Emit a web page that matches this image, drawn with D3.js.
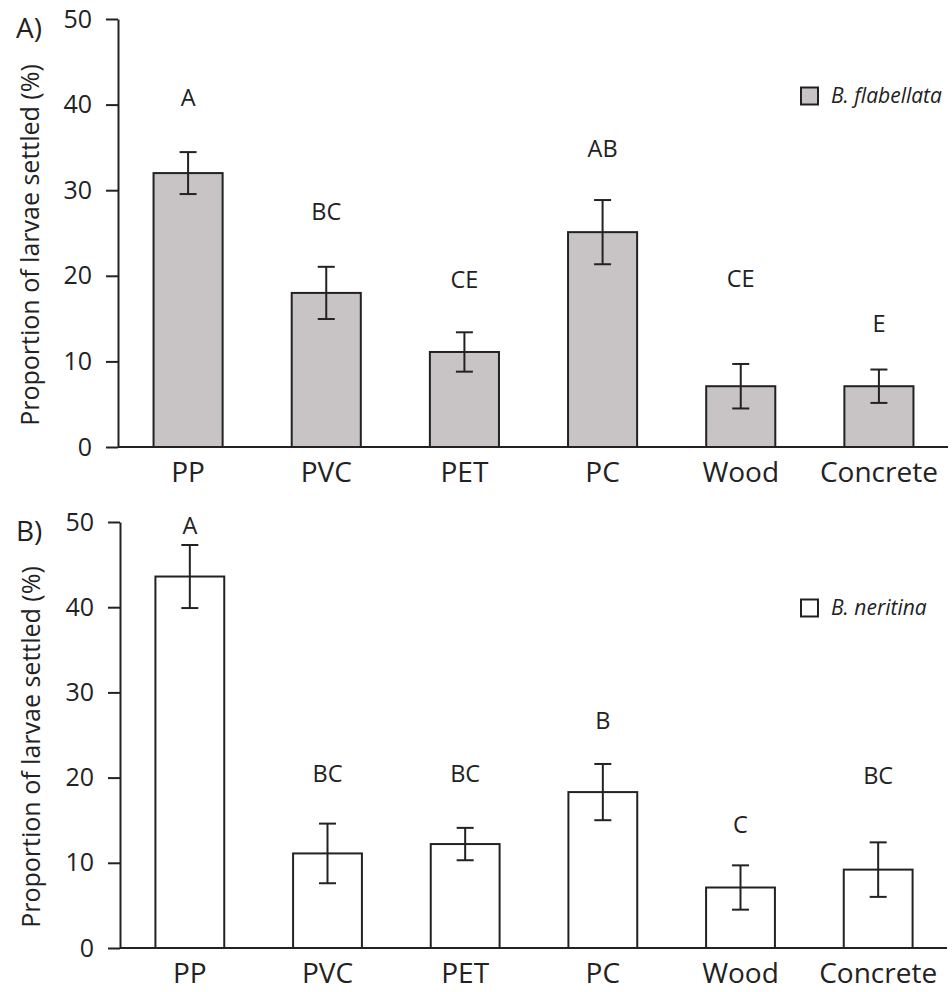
<!DOCTYPE html>
<html><head><meta charset="utf-8">
<script src="https://cdn.jsdelivr.net/npm/d3@7"></script>
<style>
html,body{margin:0;padding:0;background:#fff;}
svg text{font-family:"Open Sans",sans-serif;fill:#222;}
</style></head>
<body>
<svg id="chart" width="952" height="992"></svg>
<script>
const categories = ["PP","PVC","PET","PC","Wood","Concrete"];
const yTicks = [0,10,20,30,40,50];

const flabMean = [32.0, 18.0, 11.1, 25.1, 7.1, 7.1];
const flabErr = [2.45, 3.05, 2.3, 3.75, 2.6, 1.95];
const flabLetters = ["A","BC","CE","AB","CE","E"];
const flabLetterAt = [40.8, 27.5, 19.6, 34.9, 19.7, 14.4];

const neritMean = [43.6, 11.1, 12.2, 18.3, 7.1, 9.2];
const neritErr = [3.7, 3.5, 1.9, 3.3, 2.6, 3.2];
const neritLetters = ["A","BC","BC","B","C","BC"];
const neritLetterAt = [49.6, 20.5, 20.5, 26.7, 14.5, 20.3];

const svg = d3.select("#chart");
const ink = "#222";

function panel(cfg){
  const g = svg.append("g");
  const x = d3.scaleBand().domain(categories).range([cfg.x0, cfg.x1]).paddingInner(0.5).paddingOuter(0.25);
  const y = d3.scaleLinear().domain([0,50]).range([cfg.yBottom, cfg.yTop]);

  // bars
  g.selectAll("rect.bar").data(categories).join("rect")
    .attr("x", d => x(d)).attr("width", x.bandwidth())
    .attr("y", (d,i) => y(cfg.mean[i])).attr("height", (d,i) => y(0) - y(cfg.mean[i]))
    .attr("fill", cfg.fill).attr("stroke", ink).attr("stroke-width", 2);

  // error bars
  const cap = 8.5;
  const eb = g.selectAll("g.eb").data(categories).join("g");
  eb.append("line")
    .attr("x1", d => x(d)+x.bandwidth()/2).attr("x2", d => x(d)+x.bandwidth()/2)
    .attr("y1", (d,i) => y(cfg.mean[i]+cfg.err[i])).attr("y2", (d,i) => y(cfg.mean[i]-cfg.err[i]))
    .attr("stroke", ink).attr("stroke-width", 2);
  eb.append("line")
    .attr("x1", d => x(d)+x.bandwidth()/2-cap).attr("x2", d => x(d)+x.bandwidth()/2+cap)
    .attr("y1", (d,i) => y(cfg.mean[i]+cfg.err[i])).attr("y2", (d,i) => y(cfg.mean[i]+cfg.err[i]))
    .attr("stroke", ink).attr("stroke-width", 2);
  eb.append("line")
    .attr("x1", d => x(d)+x.bandwidth()/2-cap).attr("x2", d => x(d)+x.bandwidth()/2+cap)
    .attr("y1", (d,i) => y(cfg.mean[i]-cfg.err[i])).attr("y2", (d,i) => y(cfg.mean[i]-cfg.err[i]))
    .attr("stroke", ink).attr("stroke-width", 2);

  // significance letters
  g.selectAll("text.let").data(categories).join("text")
    .attr("x", d => x(d)+x.bandwidth()/2)
    .attr("y", (d,i) => y(cfg.letterAt[i]))
    .attr("dy", "0.36em")
    .attr("text-anchor","middle").attr("font-size", 23.5)
    .text((d,i) => cfg.letters[i]);

  // y axis
  const ya = g.append("g").attr("transform", `translate(${cfg.yAxisX},0)`)
    .call(d3.axisLeft(y).tickValues(yTicks).tickSize(12).tickSizeOuter(0).tickPadding(14));
  ya.selectAll("path,line").attr("stroke", ink).attr("stroke-width", 2);
  ya.selectAll("text").attr("font-size", 25).attr("font-family","'Open Sans',sans-serif").attr("fill", ink);

  // x axis
  const xa = g.append("g").attr("transform", `translate(0,${cfg.yBottom})`)
    .call(d3.axisBottom(x).tickSize(0).tickSizeOuter(0).tickPadding(15));
  xa.select("path").attr("stroke", ink).attr("stroke-width", 2)
    .attr("d", `M${cfg.yAxisX},0H${cfg.x1}`);
  xa.selectAll("text").attr("font-size", 28).attr("font-family","'Open Sans',sans-serif").attr("fill", ink);

  // y title
  g.append("text")
    .attr("transform", `translate(${cfg.titleX},${(cfg.yTop+cfg.yBottom)/2 + 12}) rotate(-90)`)
    .attr("text-anchor","middle").attr("font-size", 25)
    .text("Proportion of larvae settled (%)");

  // panel label
  g.append("text").attr("x", 16).attr("y", cfg.yTop + 19).attr("font-size", 28).text(cfg.tag);

  // legend
  g.append("rect").attr("x", 801).attr("y", cfg.legY - 8.5).attr("width", 17).attr("height", 17)
    .attr("fill", cfg.fill).attr("stroke", ink).attr("stroke-width", 2);
  g.append("text").attr("x", 831).attr("y", cfg.legY).attr("dy","0.35em")
    .attr("font-size", 21).attr("font-style","italic").text(cfg.legend);
}

panel({x0:119, x1:948, yAxisX:118, yBottom:447, yTop:19, mean:flabMean, err:flabErr,
  letters:flabLetters, letterAt:flabLetterAt, fill:"#c8c4c5", tag:"A)", legend:"B. flabellata",
  legY:96, titleX:39});
panel({x0:121, x1:947, yAxisX:120, yBottom:948, yTop:522, mean:neritMean, err:neritErr,
  letters:neritLetters, letterAt:neritLetterAt, fill:"#ffffff", tag:"B)", legend:"B. neritina",
  legY:608, titleX:40});
</script>
</body></html>
